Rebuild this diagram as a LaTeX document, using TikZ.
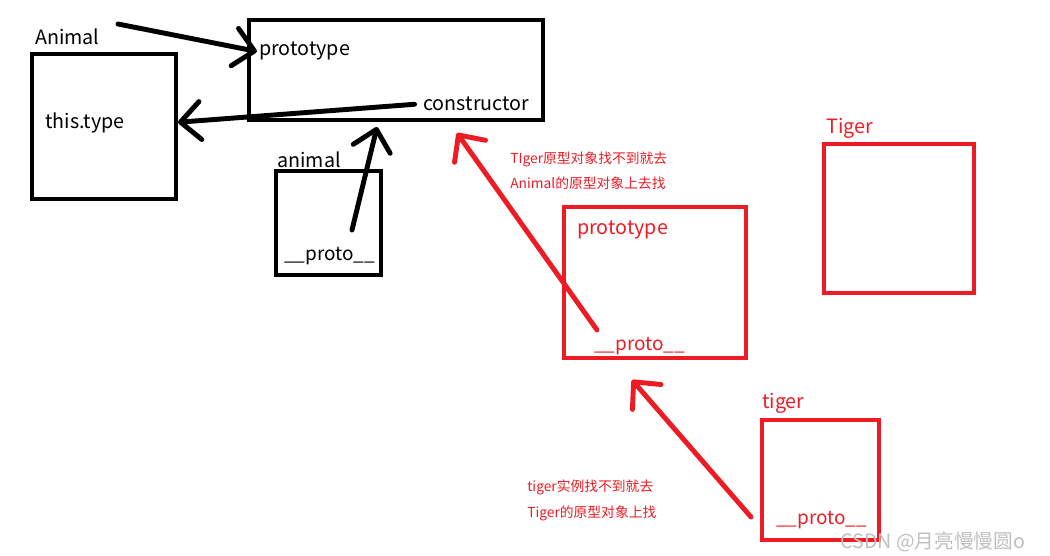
\documentclass[tikz,border=0pt]{standalone}
\usepackage{fontspec}
\setmainfont{Noto Sans CJK SC}
\usetikzlibrary{arrows.meta}
\definecolor{paintred}{RGB}{237,28,36}

\begin{document}
\begin{tikzpicture}[x=0.025cm, y=-0.025cm,
        box/.style={draw, line width=2.8pt, inner sep=0pt},
        lbl/.style={anchor=base west, inner sep=0pt, font=\fontsize{14}{16}\selectfont},
        note/.style={anchor=base west, inner sep=0pt, text=paintred, font=\fontsize{9.8}{11}\selectfont},
        link/.style={line width=3.5pt, line cap=round, -{Straight Barb[length=0.5cm, width=0.95cm, round]}}]
        \useasboundingbox (0, 0) rectangle (1050, 556);

        % Animal side
        \node[box, minimum width=3.6cm, minimum height=3.625cm] (Animal) at (104, 126.5) {};
        \node[box, minimum width=7.35cm, minimum height=2.5cm] (AnimalProto) at (396, 70) {};
        \node[box, minimum width=2.625cm, minimum height=2.6cm] (animal) at (328.5, 223) {};

        \node[lbl] (AnimalName) at (35, 45) {Animal};
        \node[lbl] (thisType) at (45, 129) {this.type};
        \node[lbl] (protoKey) at (259, 56) {prototype};
        \node[lbl] (ctorKey) at (423, 111) {constructor};
        \node[lbl] (animalName) at (277, 168) {animal};
        \node[lbl, font=\fontsize{13.5}{16}\selectfont] (animalProto) at (284, 261) {\_\_proto\_\_};

        \coordinate (S1) at (118, 24);
        \coordinate (S3) at (352, 230);
        \coordinate (T3) at (377, 127);

        \draw[link] (S1) -- ([xshift=-1.5pt]protoKey.west);
        \draw[link] ([xshift=-6pt]ctorKey.west) -- ([yshift=3pt]Animal.east);
        \draw[link] (S3) -- (T3);

        % Tiger side
        \node[box, paintred, minimum width=4.55cm, minimum height=3.775cm] (TigerProto) at (655, 282.5) {};
        \node[box, paintred, minimum width=3.75cm, minimum height=3.725cm] (Tiger) at (899, 218.5) {};
        \node[box, paintred, minimum width=2.925cm, minimum height=3cm] (tiger) at (820.5, 480) {};

        \node[lbl, paintred] (TigerName) at (826, 134) {Tiger};
        \node[lbl, paintred] (protoKey2) at (577, 235) {prototype};
        \node[lbl, paintred, font=\fontsize{13.5}{16}\selectfont] (tigerProtoKey) at (594, 350) {\_\_proto\_\_};
        \node[lbl, paintred] (tigerName) at (762, 408) {tiger};
        \node[lbl, paintred, font=\fontsize{13.5}{16}\selectfont] (tigerProto) at (776, 524) {\_\_proto\_\_};

        \node[note] (note1a) at (510, 164) {TIger原型对象找不到就去};
        \node[note] (note1b) at (510, 189) {Animal的原型对象上去找};
        \node[note] (note2a) at (527, 491) {tiger实例找不到就去};
        \node[note] (note2b) at (527, 517) {Tiger的原型对象上找};

        \coordinate (S4) at (597, 330);
        \coordinate (T4) at (457, 133);
        \coordinate (S5) at (751, 517);
        \coordinate (T5) at (632, 380);

        \draw[link, paintred] (S4) -- (T4);
        \draw[link, paintred] (S5) -- (T5);

        \node[anchor=base west, inner sep=0pt, text=black!25, font=\fontsize{14}{16}\selectfont] (mark) at (840, 548) {CSDN @月亮慢慢圆o};
    \end{tikzpicture}
\end{document}
